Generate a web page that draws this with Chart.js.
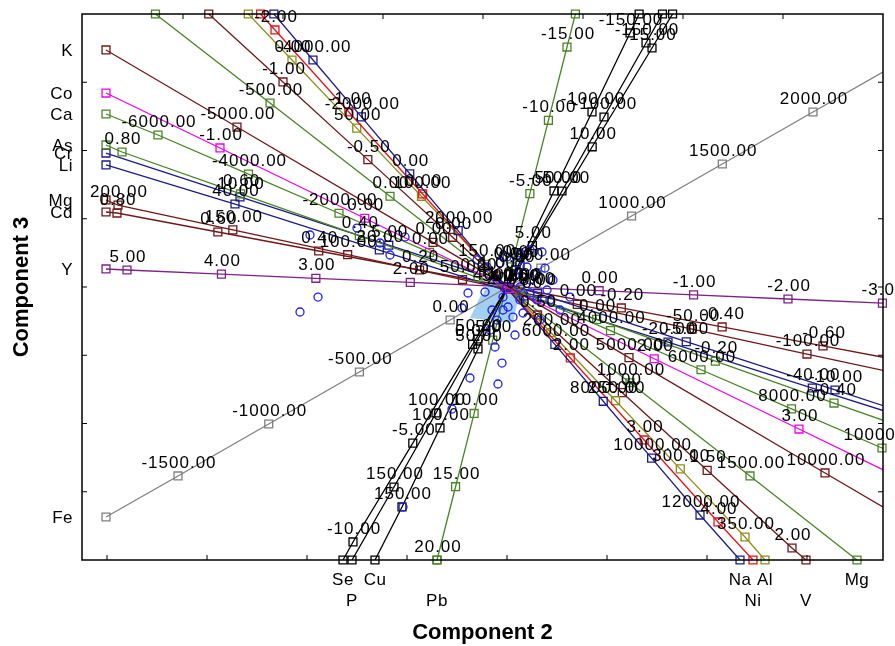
<!DOCTYPE html>
<html>
<head>
<meta charset="utf-8">
<script src="https://cdn.jsdelivr.net/npm/chart.js@4.4.1/dist/chart.umd.min.js"></script>
<style>
  html, body { margin: 0; padding: 0; background: #fff; }
</style>
</head>
<body>
<canvas id="biplot" width="895" height="646"></canvas>
<script>
// biplot variable axes, coordinates in (Component 2, Component 3)
const varNames = ['K', 'Co', 'Ca', 'As', 'Cr', 'Li', 'Mg', 'Cd', 'Y', 'Fe',
                  'Se', 'P', 'Cu', 'Pb', 'Na', 'Ni', 'Al', 'V', 'Mg'];

// labelled end of each axis
const varEnds = [
  [-4.01, 3.473], [-4.01, 2.842], [-4.01, 2.535], [-4.01, 2.081], [-4.01, 1.963],
  [-4.01, 1.788], [-4.01, 1.275], [-4.01, 1.099], [-4.01, 0.264], [-4.01, -3.370],
  [-1.64, -4.0], [-1.55, -4.0], [-1.32, -4.0], [-0.70, -4.0], [2.33, -4.0],
  [2.46, -4.0], [2.58, -4.0], [2.99, -4.0], [3.50, -4.0]
];

// two calibration readings per axis: [value, comp2, comp3]
const calLow = [
  [-5000, -2.70, 2.344], [-1, -2.87, 2.037], [-6000, -3.49, 2.227], [0.8, -3.85, 1.978],
  [10, -2.67, 1.319], [40, -2.72, 1.216], [200, -3.89, 1.201], [0.8, -3.90, 1.084],
  [5, -3.80, 0.249], [-1500, -3.29, -2.769], [-10, -1.54, -3.736], [100, -0.71, -1.846],
  [150, -1.05, -3.223], [20, -0.70, -4.0], [-4000, -1.94, 3.326], [-2, -2.32, 3.766],
  [0, -2.15, 3.326], [-1, -2.24, 3.004], [-500, -2.37, 2.696]
];
const calHigh = [
  [10000, 3.18, -2.725], [3, 2.92, -2.081], [10000, 3.75, -2.359], [-0.4, 3.27, -1.700],
  [-10, 3.28, -1.509], [-20, 1.61, -0.806], [-100, 3.00, -0.982], [-0.6, 3.16, -0.864],
  [-2, 2.81, -0.176], [2000, 3.06, 2.564], [15, 1.45, 3.502], [-100, 0.97, 2.491],
  [-150, 1.23, 3.722], [-15, 0.60, 3.516], [12000, 1.93, -3.341], [4, 2.11, -3.443],
  [350, 2.38, -3.663], [2, 2.85, -3.824], [1500, 2.43, -2.769]
];

// tick values shown on each axis
const tickValues = [
  [-5000, 0, 5000, 10000],
  [-1, 0, 1, 2, 3],
  [-6000, -4000, -2000, 0, 2000, 4000, 6000, 8000, 10000],
  [0.8, 0.6, 0.4, 0.2, 0, -0.2, -0.4],
  [10, 5, 0, -5, -10],
  [40, 20, 0, -20, -40],
  [200, 150, 100, 50, 0, -50, -100],
  [0.8, 0.6, 0.4, 0.2, 0, -0.2, -0.4, -0.6],
  [5, 4, 3, 2, 1, 0, -1, -2, -3],
  [-1500, -1000, -500, 0, 500, 1000, 1500, 2000, 2500],
  [-10, -5, 0, 5, 10, 15],
  [150, 100, 50, 0, -50, -100, -150],
  [150, 100, 50, 0, -50, -100, -150],
  [20, 15, 10, 5, 0, -5, -10, -15],
  [12000, 10000, 8000, 6000, 4000, 2000, 0, -2000, -4000],
  [4, 3, 2, 1, 0, -1, -2],
  [350, 300, 250, 200, 150, 100, 50, 0],
  [2, 1.5, 1, 0.5, 0, -0.5, -1],
  [1500, 1000, 500, 0, -500]
];

// samples (scores)
const obsC2 = [-1.97, -1.50, -1.27, -1.17, -1.02, -1.89, -2.07, -0.39, -0.45, 0.08,
  -0.05, -0.37, -0.09, -0.55, -1.04, 0.35, -0.12, -0.15, 0.01, -0.04,
  0.13, 0.23, 0.30, 0.40, 0.43, 0.46, 0.30, 0.20, 0.10, 0.00,
  -0.07, -0.20, -0.30, 0.13, 0.23, -0.04, 0.06, 0.16, -0.10, 0.13,
  0.00, -0.10, 0.23, 0.53, 0.63, 0.38, -0.22, 0.08, -0.17, 0.33];
const obsC3 = [0.762, 0.864, 0.645, 0.469, 0.733, -0.147, -0.366, -0.088, -0.308, -0.703,
  -1.114, -1.333, -1.421, -1.788, -3.223, 0.513, -0.879, -0.337, -0.293, -0.147,
  -0.190, -0.088, -0.190, -0.044, -0.190, 0.103, 0.205, 0.293, 0.352, 0.440,
  0.352, 0.293, 0.396, 0.498, 0.542, -0.337, -0.440, -0.381, -0.484, 0.000,
  0.000, 0.103, 0.103, -0.337, -0.147, 0.278, -0.073, 0.176, -0.630, -0.484];

// shaded region around the centre
const hullC2 = [-0.14, 0.13, 0.06, -0.37, -0.27];
const hullC3 = [0.103, -0.044, -0.527, -0.454, -0.147];

// styles, kept apart from the data
const BROWN = '#701818', GREEN = '#4a8526', NAVY = '#1c1c8a', OLIVE = '#8e8e1e';
const varColors = [BROWN, '#f000f0', GREEN, GREEN, NAVY, NAVY, BROWN, BROWN, '#7d2287', '#808080',
  '#000', '#000', '#000', GREEN, NAVY, '#e3141c', OLIVE, BROWN, GREEN];
// 0 = name at the left, 1 = first row under the plot, 2 = second row
const nameRow = [0, 0, 0, 0, 0, 0, 0, 0, 0, 0, 1, 2, 1, 2, 1, 2, 1, 2, 1];

const X_MIN = -4.25, X_MAX = 3.76, Y_MIN = -4, Y_MAX = 4;
const inside = p => p.x >= X_MIN - 0.01 && p.x <= X_MAX + 0.01 && p.y >= Y_MIN - 0.01 && p.y <= Y_MAX + 0.01;

function posOf(i, val) {
  const [va, ua, wa] = calLow[i];
  const [vb, ub, wb] = calHigh[i];
  const f = (val - va) / (vb - va);
  return { x: ua + f * (ub - ua), y: wa + f * (wb - wa) };
}

const axes = varNames.map((name, i) => {
  const end = { x: varEnds[i][0], y: varEnds[i][1] };
  const a = posOf(i, calLow[i][0]);
  const b = posOf(i, calHigh[i][0]);
  let dx = b.x - a.x, dy = b.y - a.y;
  const mx = (a.x + b.x) / 2, my = (a.y + b.y) / 2;
  if ((mx - end.x) * dx + (my - end.y) * dy < 0) { dx = -dx; dy = -dy; }
  const len = Math.hypot(dx, dy);
  const all = tickValues[i].map(v => ({ ...posOf(i, v), text: v.toFixed(2) }));
  const dist = p => (p.x - end.x) * dx + (p.y - end.y) * dy;
  all.sort((p, q) => dist(p) - dist(q));
  const last = all[all.length - 1];
  const far = { x: last.x + dx / len * 20, y: last.y + dy / len * 20 };
  const ticks = all.filter(inside);
  const marks = [end, ...ticks.map(t => ({ x: t.x, y: t.y }))];
  if (nameRow[i] > 0 && dy > 0) {
    const top = { x: a.x + (Y_MAX - a.y) * dx / dy, y: Y_MAX };
    if (top.x > X_MIN && top.x < X_MAX) marks.push(top);
  }
  return { name, color: varColors[i], row: nameRow[i], end, ticks, line: [end, ...all, far], marks };
});

const datasets = [];
datasets.push({
  data: obsC2.map((x, k) => ({ x, y: obsC3[k] })),
  pointStyle: 'circle', pointRadius: 4, borderWidth: 1.3,
  borderColor: '#1f1ff5', backgroundColor: 'transparent', showLine: false
});
axes.forEach(ax => {
  datasets.push({
    data: ax.marks, showLine: false, pointStyle: 'rect', pointRadius: 5.6,
    borderWidth: 1.3, borderColor: ax.color, backgroundColor: 'transparent', clip: 6
  });
  datasets.push({
    data: ax.line, showLine: true, pointRadius: 0, borderWidth: 1.3,
    borderColor: ax.color, backgroundColor: 'transparent', clip: 0
  });
});

const FONT = '"Liberation Sans", Arial, sans-serif';

const biplotDecor = {
  id: 'biplotDecor',
  beforeDatasetsDraw(chart) {
    const { ctx, scales: { x, y } } = chart;
    ctx.save();
    ctx.fillStyle = 'rgba(140, 195, 240, 0.8)';
    ctx.beginPath();
    hullC2.forEach((u, k) => {
      const px = x.getPixelForValue(u), py = y.getPixelForValue(hullC3[k]);
      k ? ctx.lineTo(px, py) : ctx.moveTo(px, py);
    });
    ctx.closePath();
    ctx.fill();
    ctx.restore();
  },
  afterDatasetsDraw(chart) {
    const { ctx, chartArea: a, scales: { x, y } } = chart;
    ctx.save();
    // frame and inward ticks
    ctx.strokeStyle = '#000';
    ctx.lineWidth = 1.5;
    ctx.strokeRect(a.left, a.top, a.right - a.left, a.bottom - a.top);
    ctx.lineWidth = 1;
    ctx.beginPath();
    for (let t = -4; t <= 3; t++) {
      const px = x.getPixelForValue(t);
      ctx.moveTo(px, a.bottom); ctx.lineTo(px, a.bottom - 5);
    }
    for (let t = -3.24; t < X_MAX; t += 1) {
      const px = x.getPixelForValue(t);
      ctx.moveTo(px, a.top); ctx.lineTo(px, a.top + 5);
    }
    for (let t = -3; t <= 3; t++) {
      const py = y.getPixelForValue(t);
      ctx.moveTo(a.left, py); ctx.lineTo(a.left + 5, py);
      ctx.moveTo(a.right, py); ctx.lineTo(a.right - 5, py);
    }
    ctx.stroke();

    // tick value labels
    ctx.fillStyle = '#000';
    ctx.font = '17px ' + FONT;
    ctx.letterSpacing = '1px';
    ctx.textAlign = 'center';
    ctx.textBaseline = 'alphabetic';
    axes.forEach(ax => ax.ticks.forEach(t => {
      ctx.fillText(t.text, x.getPixelForValue(t.x) + 1, y.getPixelForValue(t.y) - 8);
    }));

    // variable names
    ctx.letterSpacing = '0.5px';
    axes.forEach(ax => {
      const px = x.getPixelForValue(ax.end.x);
      const py = y.getPixelForValue(ax.end.y);
      if (ax.row === 0) {
        ctx.textAlign = 'right';
        ctx.textBaseline = 'middle';
        ctx.fillText(ax.name, a.left - 9, py + 1);
      } else {
        ctx.textAlign = 'center';
        ctx.textBaseline = 'middle';
        ctx.fillText(ax.name, px, ax.row === 1 ? 580 : 601);
      }
    });

    // axis titles
    ctx.letterSpacing = '0px';
    ctx.font = 'bold 22px ' + FONT;
    ctx.textAlign = 'center';
    ctx.textBaseline = 'middle';
    ctx.fillText('Component 2', (a.left + a.right) / 2, 633);
    ctx.translate(22, (a.top + a.bottom) / 2);
    ctx.rotate(-Math.PI / 2);
    ctx.fillText('Component 3', 0, 0);
    ctx.restore();
  }
};

new Chart(document.getElementById('biplot').getContext('2d'), {
  type: 'scatter',
  data: { datasets },
  options: {
    responsive: false,
    animation: false,
    devicePixelRatio: 1,
    layout: { padding: { left: 82, right: 12, top: 14, bottom: 86 } },
    scales: {
      x: { type: 'linear', min: X_MIN, max: X_MAX, display: false },
      y: { type: 'linear', min: Y_MIN, max: Y_MAX, display: false }
    },
    plugins: { legend: { display: false }, tooltip: { enabled: false } }
  },
  plugins: [biplotDecor]
});
</script>
</body>
</html>
